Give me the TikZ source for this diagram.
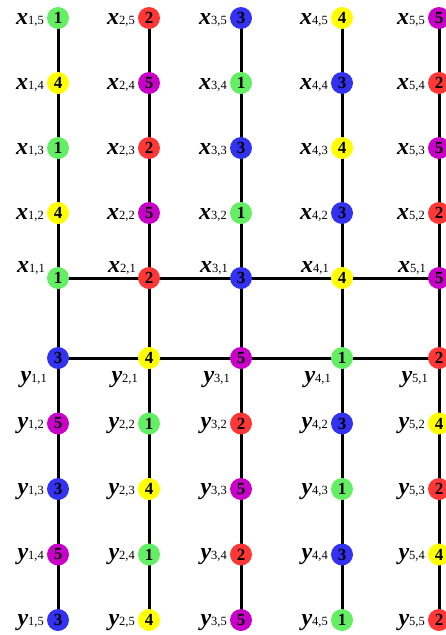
\documentclass[tikz,border=0pt]{standalone}
\usepackage{fontspec}
\setmainfont{Liberation Serif}
\usetikzlibrary{backgrounds}
\definecolor{c1}{RGB}{100,238,100}
\definecolor{c2}{RGB}{255,55,55}
\definecolor{c3}{RGB}{50,50,240}
\definecolor{c4}{RGB}{255,255,0}
\definecolor{c5}{RGB}{200,0,200}
\newcommand\mylab[2]{{\fontsize{24}{24}\selectfont\bfseries\itshape #1}{\fontsize{12.5}{12.5}\selectfont #2}}
\tikzset{
  dot/.style={circle, inner sep=0pt, minimum size=22pt, fill=c#1,
    font=\fontsize{17}{17}\selectfont\bfseries},
  lbl/.style={inner sep=0pt, anchor=base east},
  edge/.style={line width=3pt, black}
}
\begin{document}
\begin{tikzpicture}[x=1pt,y=-1pt]
\useasboundingbox (0,0) rectangle (446,635);
\clip (0,0) rectangle (446,635);
% x nodes
\foreach \j/\ry/\nums in {5/18/{1,2,3,4,5},4/83/{4,5,1,3,2},3/148/{1,2,3,4,5},2/213/{4,5,1,3,2},1/278/{1,2,3,4,5}}{
  \foreach \n [count=\i] in \nums {
    \pgfmathsetmacro\cx{{58,149,241,342,439}[\i-1]}
    \node[dot=\n] (x\i\j) at (\cx,\ry) {\n};
    \ifnum\j=1
      \node[lbl] (lx\i\j) at (\cx-13,\ry-6) {\mylab{x}{\i,\j}};
    \else
      \node[lbl] (lx\i\j) at (\cx-14,\ry+6) {\mylab{x}{\i,\j}};
    \fi
  }
}
% y nodes
\foreach \j/\ry/\nums in {1/358/{3,4,5,1,2},2/423.5/{5,1,2,3,4},3/489/{3,4,5,1,2},4/554.5/{5,1,2,3,4},5/620/{3,4,5,1,2}}{
  \foreach \n [count=\i] in \nums {
    \pgfmathsetmacro\cx{{58,149,241,342,439}[\i-1]}
    \node[dot=\n] (y\i\j) at (\cx,\ry) {\n};
    \ifnum\j=1
      \node[lbl] (ly\i\j) at (\cx-11,\ry+24) {\mylab{y}{\i,\j}};
    \else
      \node[lbl] (ly\i\j) at (\cx-14,\ry+5) {\mylab{y}{\i,\j}};
    \fi
  }
}
\begin{pgfonlayer}{background}
  \foreach \i in {1,...,5} {
    \draw[edge] (x\i5.center) -- (y\i5.center);
  }
  \draw[edge] (x11.center) -- (x51.center);
  \draw[edge] (y11.center) -- (y51.center);
\end{pgfonlayer}
\end{tikzpicture}
\end{document}
